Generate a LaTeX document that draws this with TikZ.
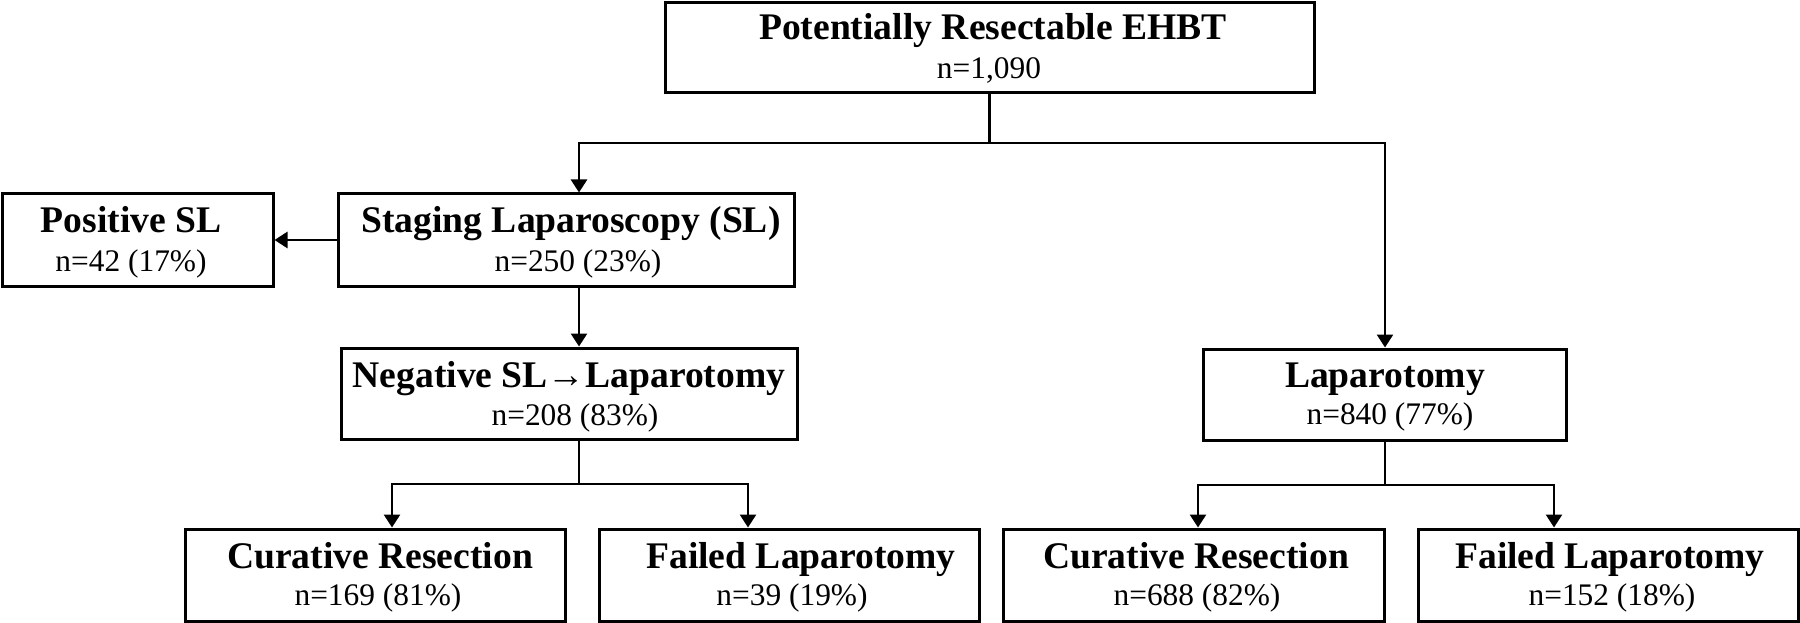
\documentclass[tikz,border=0pt]{standalone}
\usepackage{fontspec}
\setmainfont{Liberation Serif}
\usetikzlibrary{arrows.meta}
\tikzset{
  box/.style={draw, line width=3pt, inner sep=0pt, minimum height=91pt},
  ttl/.style={font=\fontsize{37.6}{40}\selectfont\bfseries, anchor=base, inner sep=0pt},
  cnt/.style={font=\fontsize{31.4}{34}\selectfont, anchor=base, inner sep=0pt},
  conn/.style={line width=2.7pt},
  arr/.style={conn, -{Triangle[length=13pt,width=16pt]}}
}
\begin{document}
\begin{tikzpicture}[x=1pt,y=-1pt]
\useasboundingbox (0,0) rectangle (1800,623);
% boxes
\node[box, minimum width=649pt, minimum height=90pt] (top) at (989.5,48) {};
\node[box, minimum width=271pt, minimum height=92pt] (pos) at (137.5,240) {};
\node[box, minimum width=456pt, minimum height=92pt] (sl) at (566,240) {};
\node[box, minimum width=456pt] (neg) at (569,393.5) {};
\node[box, minimum width=363pt] (lap) at (1384.5,394.5) {};
\node[box, minimum width=380pt, minimum height=92pt] (cur1) at (375,575) {};
\node[box, minimum width=380pt, minimum height=92pt] (fail1) at (789,575) {};
\node[box, minimum width=381pt, minimum height=92pt] (cur2) at (1193.5,575) {};
\node[box, minimum width=380pt, minimum height=92pt] (fail2) at (1608,575) {};
% texts
\node[ttl] (topA) at (993,40) {Potentially Resectable EHBT};
\node[cnt] (topB) at (989,79) {n=1,090};
\node[ttl] (posA) at (131,233) {Positive SL};
\node[cnt] (posB) at (131,271) {n=42 (17\%)};
\node[ttl] (slA) at (571,233) {Staging Laparoscopy (SL)};
\node[cnt] (slB) at (578,271) {n=250 (23\%)};
\node[ttl] (negA) at (569,387) {Negative SL→Laparotomy};
\node[cnt] (negB) at (575,425) {n=208 (83\%)};
\node[ttl] (lapA) at (1385,387) {Laparotomy};
\node[cnt] (lapB) at (1390,424) {n=840 (77\%)};
\node[ttl] (cur1A) at (380,568) {Curative Resection};
\node[cnt] (cur1B) at (378,605) {n=169 (81\%)};
\node[ttl] (fail1A) at (801,568) {Failed Laparotomy};
\node[cnt] (fail1B) at (792,605) {n=39 (19\%)};
\node[ttl] (cur2A) at (1196,568) {Curative Resection};
\node[cnt] (cur2B) at (1197,605) {n=688 (82\%)};
\node[ttl] (fail2A) at (1610,568) {Failed Laparotomy};
\node[cnt] (fail2B) at (1612,605) {n=152 (18\%)};
% connector points
\coordinate (j1) at (989.5,143);
\coordinate (aSL) at (579,143);
\coordinate (aLap) at (1385,143);
\coordinate (j2) at (579,484);
\coordinate (c1) at (392,484);
\coordinate (f1) at (748,484);
\coordinate (j3) at (1385,485);
\coordinate (c2) at (1198,485);
\coordinate (f2) at (1554,485);
% connectors
\draw[conn] (top.south) -- (j1);
\draw[arr] (j1) -- (aSL) -- (aSL |- sl.north);
\draw[arr] (j1) -- (aLap) -- (aLap |- lap.north);
\draw[arr] (sl.west) -- (pos.east);
\draw[arr] (aSL |- sl.south) -- (aSL |- neg.north);
\draw[conn] (aSL |- neg.south) -- (j2);
\draw[arr] (j2) -- (c1) -- (c1 |- cur1.north);
\draw[arr] (j2) -- (f1) -- (f1 |- fail1.north);
\draw[conn] (j3 |- lap.south) -- (j3);
\draw[arr] (j3) -- (c2) -- (c2 |- cur2.north);
\draw[arr] (j3) -- (f2) -- (f2 |- fail2.north);
\end{tikzpicture}
\end{document}
